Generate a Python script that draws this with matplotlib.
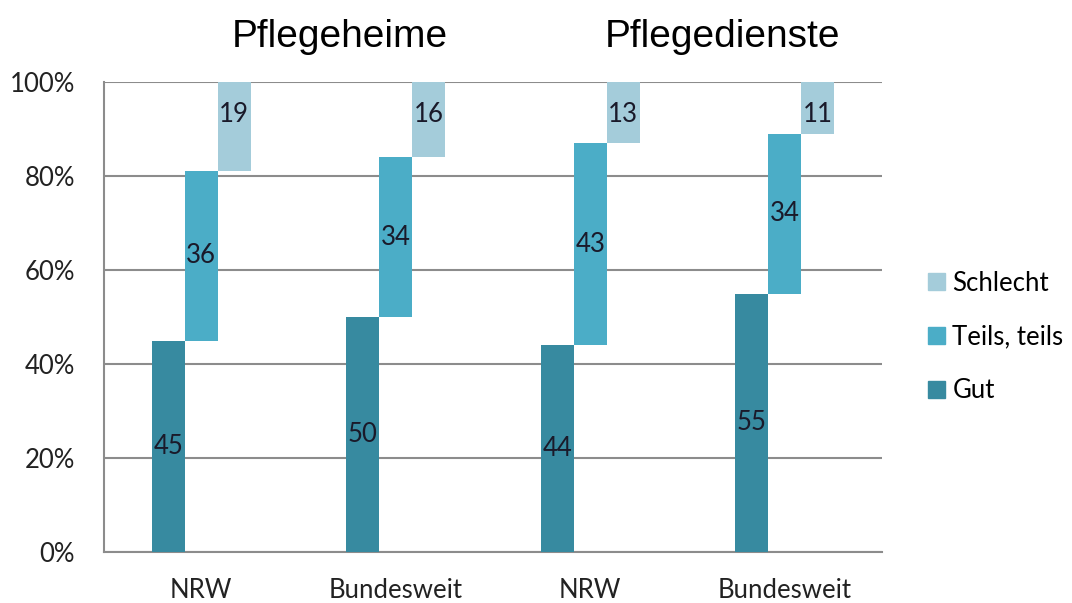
import matplotlib
matplotlib.use("Agg")
import matplotlib.pyplot as plt
from matplotlib.patches import Patch
import numpy as np

categories = ["NRW", "Bundesweit", "NRW", "Bundesweit"]
groups = ["Pflegeheime", "Pflegedienste"]
gut = [45, 50, 44, 55]
teils = [36, 34, 43, 34]
schlecht = [19, 16, 13, 11]
series_names = ["Gut", "Teils, teils", "Schlecht"]
colors = ["#378AA0", "#4BADC7", "#A4CCDA"]
yticks = [0, 20, 40, 60, 80, 100]

plt.rcParams['font.family'] = ['Lato', 'DejaVu Sans']

fig = plt.figure(figsize=(10.72, 6.03), dpi=100)
ax = fig.add_axes([104/1072, 51/603, 778/1072, 470/603])

x = np.arange(len(categories)) + 0.5
w = 0.17
series = [gut, teils, schlecht]
bottoms = np.zeros(len(categories))
for i, (vals, c) in enumerate(zip(series, colors)):
    vals = np.array(vals, dtype=float)
    xs = x + (i - 1) * w
    ax.bar(xs, vals, bottom=bottoms, width=w, color=c, zorder=3)
    for xi, b, v in zip(xs, bottoms, vals):
        if i == 2:
            ty = 100 - 7
        else:
            ty = b + v / 2
        ax.text(xi, ty, f"{int(v)}", ha='center', va='center', fontsize=18.5,
                color='#1a1a2a', zorder=4)
    bottoms = bottoms + vals

ax.set_xlim(0, len(categories))
ax.set_ylim(0, 100)
ax.set_yticks(yticks)
ax.set_yticklabels([f"{t}%" for t in yticks], fontsize=18.5, color='#222222')
ax.set_xticks(x)
ax.set_xticklabels(categories, fontsize=18.5, color='#222222')
ax.tick_params(axis='y', length=0, pad=21)
ax.tick_params(axis='x', length=0, pad=19)
ax.yaxis.grid(True, color='#8c8c8c', linewidth=1.5, zorder=1)
ax.set_axisbelow(True)
for s in ['top', 'right']:
    ax.spines[s].set_visible(False)
for s in ['left', 'bottom']:
    ax.spines[s].set_color('#8c8c8c')
    ax.spines[s].set_linewidth(1.5)

handles = [Patch(color=c, label=n) for c, n in zip(colors, series_names)][::-1]
fig.legend(handles=handles, loc='center left', bbox_to_anchor=(928/1072, 1 - 337/603),
           frameon=False, fontsize=18.5, borderpad=0, borderaxespad=0,
           handlelength=0.65, handleheight=0.65, handletextpad=0.3, labelspacing=1.12)

title_font = ['Liberation Sans', 'DejaVu Sans']
fig.text(340/1072, 1 - 37/603, groups[0], ha='center', va='center', fontsize=28,
         family=title_font, color='black')
fig.text(722/1072, 1 - 37/603, groups[1], ha='center', va='center', fontsize=28,
         family=title_font, color='black')

fig.savefig("out.png", dpi=100)
